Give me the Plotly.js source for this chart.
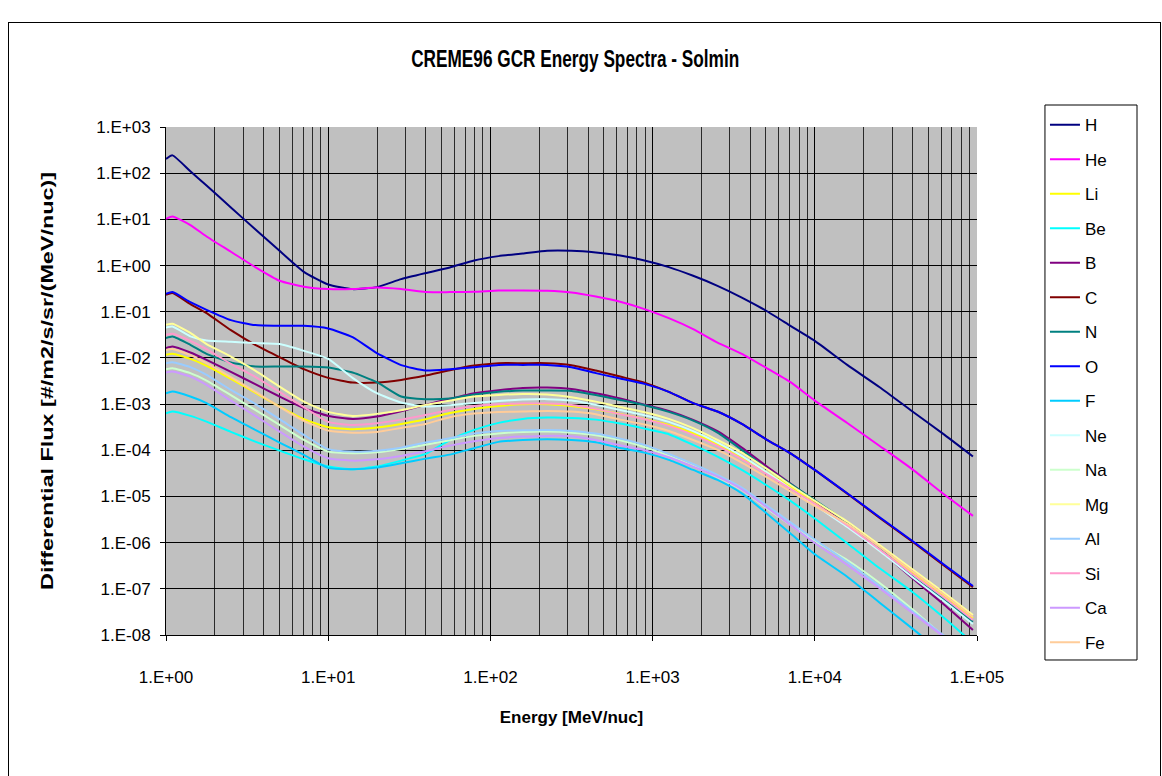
<!DOCTYPE html>
<html>
<head>
<meta charset="utf-8">
<script src="https://cdn.plot.ly/plotly-3.0.1.min.js"></script>
<style>
  html, body { margin:0; padding:0; background:#fff; overflow:hidden; }
  #chart { position:absolute; left:0; top:0; width:1162px; height:776px; }
  #frame { position:absolute; left:8px; top:22px; width:1151px; height:800px; border:1px solid #000; pointer-events:none; }
</style>
</head>
<body>
<div id="chart"></div>
<div id="frame"></div>
<script>
// Energy grid [MeV/nuc]
const energy = [1.0, 1.096, 1.413, 1.778, 2.512, 3.548, 5.012, 7.079, 10, 14.13, 19.95, 28.18, 39.81, 56.23, 79.43,
  112.2, 158.5, 223.9, 316.2, 446.7, 631, 891.3, 1259, 1778, 2512, 3548, 5012, 7079, 10000, 15850, 25120, 39810, 63100, 94400];

// Differential flux [#/m2/s/sr/(MeV/nuc)]
const H  = [203, 243, 110, 54, 18.1, 6.1, 2.09, 0.73, 0.388, 0.309, 0.341, 0.508, 0.685, 0.908, 1.29, 1.60, 1.82, 2.09, 2.09, 1.92,
  1.65, 1.29, 0.925, 0.600, 0.364, 0.203, 0.105, 0.0495, 0.0234, 7.06e-3, 2.32e-3, 7.0e-4, 2.15e-4, 7.3e-5];
const He = [10.3, 11.6, 7.53, 4.26, 1.99, 0.925, 0.468, 0.347, 0.309, 0.309, 0.334, 0.309, 0.266, 0.266, 0.270, 0.288, 0.288, 0.284, 0.261, 0.213,
  0.164, 0.114, 0.0726, 0.042, 0.0215, 0.01225, 6.1e-3, 2.98e-3, 1.19e-3, 3.9e-4, 1.24e-4, 3.9e-5, 1.09e-5, 3.8e-6];
const Li = [0.01164, 0.01225, 9.53e-3, 6.73e-3, 3.52e-3, 1.77e-3, 8.83e-4, 4.71e-4, 3.16e-4, 2.86e-4, 3.10e-4, 3.72e-4, 4.71e-4, 6.44e-4, 7.87e-4,
  9.14e-4, 9.95e-4, 9.95e-4, 9.14e-4, 7.75e-4, 6.14e-4, 4.78e-4, 3.54e-4, 2.34e-4, 1.35e-4, 6.73e-5, 3.40e-5, 1.61e-5, 7.41e-6, 2.54e-6, 7.66e-7, 2.31e-7, 6.98e-8, 2.33e-8];
const Be = [6.35e-4, 6.89e-4, 5.55e-4, 4.18e-4, 2.50e-4, 1.54e-4, 9.82e-5, 6.40e-5, 4.43e-5, 3.88e-5, 4.43e-5, 5.97e-5, 8.34e-5, 1.67e-4, 2.76e-4,
  3.92e-4, 4.78e-4, 5.10e-4, 5.02e-4, 4.61e-4, 3.78e-4, 2.94e-4, 2.23e-4, 1.31e-4, 7.28e-5, 3.75e-5, 1.77e-5, 8.0e-6, 3.33e-6, 9.68e-7, 2.78e-7, 8.65e-8, 2.30e-8, 6.70e-9];
const B  = [0.01626, 0.0176, 0.01306, 9.08e-3, 4.99e-3, 2.70e-3, 1.46e-3, 8.15e-4, 5.55e-4, 4.78e-4, 5.36e-4, 7.01e-4, 9.61e-4, 1.30e-3, 1.72e-3,
  2.00e-3, 2.24e-3, 2.28e-3, 2.13e-3, 1.72e-3, 1.32e-3, 9.75e-4, 7.12e-4, 4.55e-4, 2.59e-4, 1.14e-4, 4.58e-5, 1.91e-5, 8.0e-6, 2.60e-6, 6.93e-7, 1.71e-7, 4.46e-8, 1.28e-8];
const C  = [0.232, 0.253, 0.146, 0.0933, 0.0399, 0.0192, 0.0104, 5.70e-3, 3.70e-3, 2.92e-3, 2.92e-3, 3.34e-3, 4.15e-3, 5.43e-3, 6.83e-3,
  7.69e-3, 7.69e-3, 7.69e-3, 6.97e-3, 5.32e-3, 3.94e-3, 2.92e-3, 1.84e-3, 1.05e-3, 6.9e-4, 3.72e-4, 1.73e-4, 8.6e-5, 3.75e-5, 1.15e-5, 3.42e-6, 1.06e-6, 3.12e-7, 1.09e-7];
const N  = [0.0268, 0.0290, 0.0192, 0.01225, 7.93e-3, 6.50e-3, 6.50e-3, 6.50e-3, 6.18e-3, 4.82e-3, 2.99e-3, 1.46e-3, 1.28e-3, 1.32e-3, 1.61e-3,
  1.84e-3, 1.96e-3, 1.96e-3, 1.93e-3, 1.58e-3, 1.23e-3, 9.46e-4, 6.77e-4, 4.39e-4, 2.41e-4, 1.02e-4, 4.09e-5, 1.87e-5, 8.39e-6, 2.71e-6, 7.55e-7, 1.89e-7, 5.71e-8, 1.94e-8];
const O  = [0.244, 0.266, 0.161, 0.110, 0.0658, 0.0513, 0.0495, 0.0495, 0.0433, 0.0282, 0.0127, 6.97e-3, 5.32e-3, 5.70e-3, 6.3e-3,
  7.06e-3, 7.06e-3, 7.06e-3, 6.3e-3, 4.68e-3, 3.57e-3, 2.74e-3, 1.84e-3, 1.05e-3, 6.9e-4, 3.72e-4, 1.73e-4, 8.6e-5, 3.75e-5, 1.17e-5, 3.54e-6, 1.10e-6, 3.28e-7, 1.15e-7];
const F  = [1.72e-3, 1.87e-3, 1.46e-3, 1.05e-3, 5.20e-4, 2.76e-4, 1.47e-4, 7.93e-5, 4.15e-5, 3.88e-5, 4.21e-5, 5.24e-5, 6.59e-5, 8.05e-5, 1.11e-4,
  1.52e-4, 1.67e-4, 1.74e-4, 1.67e-4, 1.49e-4, 1.12e-4, 8.89e-5, 6.18e-5, 3.75e-5, 2.28e-5, 1.17e-5, 4.40e-6, 1.58e-6, 5.60e-7, 1.83e-7, 5.0e-8, 1.39e-8, 3.81e-9, 1.23e-9];
const Ne = [0.0455, 0.0478, 0.0293, 0.0238, 0.0223, 0.0209, 0.0199, 0.0142, 9.53e-3, 3.70e-3, 1.72e-3, 1.08e-3, 8.83e-4, 9.46e-4, 1.06e-3,
  1.17e-3, 1.25e-3, 1.28e-3, 1.19e-3, 9.61e-4, 7.48e-4, 5.75e-4, 4.11e-4, 2.59e-4, 1.47e-4, 7.55e-5, 3.40e-5, 1.49e-5, 6.55e-6, 2.18e-6, 6.59e-7, 1.80e-7, 5.31e-8, 1.73e-8];
const Na = [5.70e-3, 6.0e-3, 4.68e-3, 3.23e-3, 1.56e-3, 7.48e-4, 3.54e-4, 1.67e-4, 9.35e-5, 8.63e-5, 9.08e-5, 1.07e-4, 1.31e-4, 1.65e-4, 2.05e-4,
  2.32e-4, 2.50e-4, 2.54e-4, 2.41e-4, 2.12e-4, 1.65e-4, 1.18e-4, 7.55e-5, 4.58e-5, 2.61e-5, 1.38e-5, 5.64e-6, 2.42e-6, 1.09e-6, 4.21e-7, 1.34e-7, 3.65e-8, 9.03e-9, 2.86e-9];
const Mg = [0.0520, 0.0547, 0.0349, 0.0199, 0.01069, 5.32e-3, 2.39e-3, 1.13e-3, 6.78e-4, 5.55e-4, 6.14e-4, 7.38e-4, 9.61e-4, 1.19e-3, 1.46e-3,
  1.58e-3, 1.66e-3, 1.62e-3, 1.41e-3, 1.13e-3, 8.69e-4, 6.67e-4, 4.78e-4, 3.01e-4, 1.67e-4, 8.89e-5, 4.05e-5, 1.77e-5, 8.0e-6, 2.87e-6, 8.89e-7, 2.69e-7, 8.11e-8, 2.70e-8];
const Al = [7.69e-3, 8.09e-3, 6.31e-3, 4.30e-3, 2.03e-3, 1.01e-3, 4.71e-4, 2.15e-4, 1.05e-4, 9.35e-5, 9.82e-5, 1.14e-4, 1.47e-4, 1.82e-4, 2.30e-4,
  2.62e-4, 2.72e-4, 2.76e-4, 2.62e-4, 2.30e-4, 1.79e-4, 1.31e-4, 8.34e-5, 5.06e-5, 2.92e-5, 1.55e-5, 6.55e-6, 2.74e-6, 1.17e-6, 3.81e-7, 1.15e-7, 3.30e-8, 9.48e-9, 3.17e-9];
const Si = [0.0316, 0.0332, 0.0234, 0.0155, 7.43e-3, 3.88e-3, 1.84e-3, 8.57e-4, 4.11e-4, 3.54e-4, 3.85e-4, 4.61e-4, 5.83e-4, 7.48e-4, 9.14e-4,
  9.95e-4, 1.03e-3, 1.03e-3, 9.61e-4, 7.87e-4, 6.04e-4, 4.71e-4, 3.37e-4, 2.15e-4, 1.24e-4, 6.40e-5, 3.08e-5, 1.46e-5, 6.89e-6, 2.35e-6, 7.11e-7, 2.09e-7, 6.32e-8, 2.11e-8];
const Ca = [4.82e-3, 5.06e-3, 3.94e-3, 2.61e-3, 1.19e-3, 5.55e-4, 2.54e-4, 1.20e-4, 6.73e-5, 5.97e-5, 6.40e-5, 7.55e-5, 9.55e-5, 1.26e-4, 1.57e-4,
  1.85e-4, 1.98e-4, 2.05e-4, 2.01e-4, 1.67e-4, 1.29e-4, 1.0e-4, 7.06e-5, 4.43e-5, 2.69e-5, 1.43e-5, 5.92e-6, 2.42e-6, 9.84e-7, 3.28e-7, 1.03e-7, 3.03e-8, 8.89e-9, 2.77e-9];
const Fe = [0.0149, 0.0155, 0.0115, 7.69e-3, 3.83e-3, 1.87e-3, 8.69e-4, 4.33e-4, 2.67e-4, 2.41e-4, 2.50e-4, 3.05e-4, 3.72e-4, 5.20e-4, 6.22e-4,
  6.78e-4, 6.89e-4, 7.13e-4, 6.89e-4, 6.04e-4, 4.61e-4, 3.60e-4, 2.62e-4, 1.67e-4, 1.02e-4, 5.40e-5, 2.65e-5, 1.28e-5, 6.22e-6, 2.54e-6, 8.05e-7, 2.43e-7, 7.35e-8, 2.45e-8];

const names  = ['H', 'He', 'Li', 'Be', 'B', 'C', 'N', 'O', 'F', 'Ne', 'Na', 'Mg', 'Al', 'Si', 'Ca', 'Fe'];
const values = [H, He, Li, Be, B, C, N, O, F, Ne, Na, Mg, Al, Si, Ca, Fe];
const colors = ['#000080', '#FF00FF', '#FFFF00', '#00FFFF', '#800080', '#800000', '#008080', '#0000FF',
                '#00CCFF', '#CCFFFF', '#CCFFCC', '#FFFF99', '#99CCFF', '#FF99CC', '#CC99FF', '#FFCC99'];

const xTickVals = [1, 10, 100, 1000, 10000, 100000];
const xTickText = ['1.E+00', '1.E+01', '1.E+02', '1.E+03', '1.E+04', '1.E+05'];
const yTickVals = [1e-8, 1e-7, 1e-6, 1e-5, 1e-4, 1e-3, 1e-2, 1e-1, 1, 10, 100, 1000];
const yTickText = ['1.E-08', '1.E-07', '1.E-06', '1.E-05', '1.E-04', '1.E-03', '1.E-02', '1.E-01', '1.E+00', '1.E+01', '1.E+02', '1.E+03'];

// minor (2..9) gridline positions for the log x axis
const xMinor = [];
for (let d = 1; d < 100000; d *= 10) for (let m = 2; m <= 9; m++) xMinor.push(m * d);

const FONT = 'Liberation Sans, Arial, sans-serif';

const traces = names.map((n, i) => ({
  type: 'scatter', mode: 'lines', name: n, x: energy, y: values[i],
  legendgroup: n,
  line: { color: colors[i], width: 2, shape: 'spline', smoothing: 0.5 }
}));

const layout = {
  width: 1162, height: 776,
  margin: { l: 166, r: 185, t: 127, b: 141, pad: 0 },
  paper_bgcolor: '#FFFFFF', plot_bgcolor: '#C0C0C0',
  font: { family: FONT, size: 17, color: '#000' },
  title: { text: 'CREME96 GCR Energy Spectra - Solmin', x: 0.495, xanchor: 'center', y: 0.925, yanchor: 'middle',
           font: { family: FONT, size: 24, weight: 'bold', color: '#000' } },
  xaxis: {
    type: 'log', range: [0, 5], tickmode: 'array', tickvals: xTickVals, ticktext: xTickText,
    ticks: 'outside', ticklen: 5, tickcolor: '#000', tickwidth: 1, ticklabelstandoff: 22,
    showline: true, linecolor: '#000', linewidth: 1, mirror: false,
    showgrid: true, gridcolor: '#000', gridwidth: 1, zeroline: false,
    minor: { tickmode: 'array', tickvals: xMinor, showgrid: true, gridcolor: '#2a2a2a', gridwidth: 1, ticks: '' },
    tickfont: { family: FONT, size: 17, color: '#000' },
    title: { text: 'Energy [MeV/nuc]', standoff: 24, font: { family: FONT, size: 17, weight: 'bold', color: '#000' } },
    automargin: false
  },
  yaxis: {
    type: 'log', range: [-8, 3], tickmode: 'array', tickvals: yTickVals, ticktext: yTickText,
    ticks: 'outside', ticklen: 5, tickcolor: '#000', tickwidth: 1, ticklabelstandoff: 6,
    showline: true, linecolor: '#000', linewidth: 1,
    showgrid: true, gridcolor: '#000', gridwidth: 1, zeroline: false,
    tickfont: { family: FONT, size: 17, color: '#000' },
    title: { text: 'Differential Flux [#/m2/s/sr/(MeV/nuc)]', standoff: 38, font: { family: FONT, size: 17, weight: 'bold', color: '#000' } },
    automargin: false
  },
  // legend frame (wider than the entries, as in the reference)
  shapes: [{
    type: 'rect', xref: 'paper', yref: 'paper', layer: 'above',
    x0: 1.0838, x1: 1.1973, y0: -0.0492, y1: 1.0433,
    line: { color: '#000', width: 1 }, fillcolor: '#FFFFFF'
  }],
  showlegend: true,
  legend: {
    x: 1.0838, xanchor: 'left', y: 1.039, yanchor: 'top', maxheight: 700,
    bgcolor: 'rgba(0,0,0,0)', borderwidth: 0,
    font: { family: FONT, size: 17, color: '#000' },
    traceorder: 'grouped', tracegroupgap: 9.4, itemwidth: 30
  }
};

function touchUp(gd) {
  // the reference's text is drawn condensed (title) / stretched (vertical axis title)
  const t = gd.querySelector('.gtitle');
  if (t) { t.setAttribute('textLength', '328'); t.setAttribute('lengthAdjust', 'spacingAndGlyphs'); }
  const yt = gd.querySelector('.ytitle');
  if (yt) { yt.setAttribute('textLength', '418'); yt.setAttribute('lengthAdjust', 'spacingAndGlyphs'); }
}

Plotly.newPlot('chart', traces, layout, { displayModeBar: false, staticPlot: true }).then(gd => {
  touchUp(gd);
  gd.on('plotly_afterplot', () => touchUp(gd));
});
</script>
</body>
</html>
